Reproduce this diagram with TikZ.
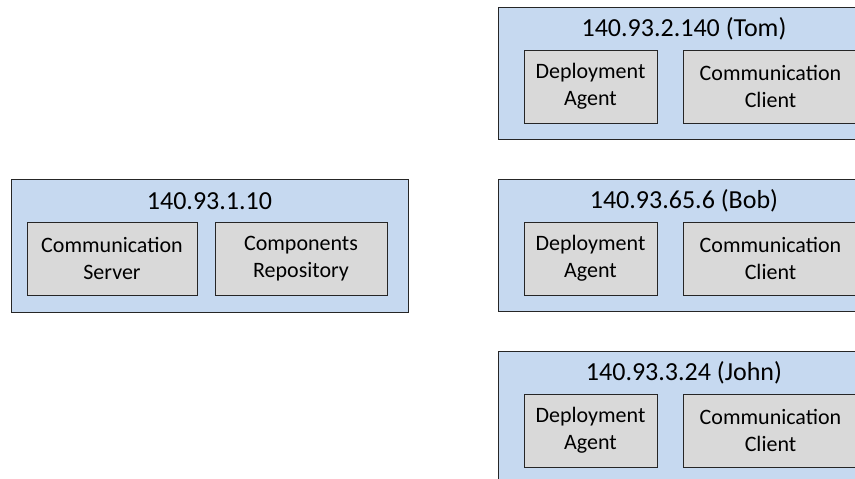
\documentclass[tikz,border=0pt]{standalone}
\usepackage{fontspec}
\setmainfont{Carlito}
\definecolor{hostblue}{HTML}{C6D9F0}
\definecolor{compgray}{HTML}{D9D9D9}
\definecolor{edgecol}{HTML}{262626}
\begin{document}
\begin{tikzpicture}[x=1pt,y=-1pt,
  host/.style={draw=edgecol,fill=hostblue,line width=0.9pt},
  comp/.style={draw=edgecol,fill=compgray,line width=0.9pt},
  ttl/.style={font=\fontsize{26}{30}\selectfont,inner sep=0pt},
  lbl/.style={font=\fontsize{22}{27}\selectfont,align=center,inner sep=0pt}]
\useasboundingbox (0,0) rectangle (855,479);
\begin{scope}
\clip (0,0) rectangle (855,479);
% left server host
\draw[host] (11,179) rectangle (408,312);
\node[ttl] (srvT) at (209.5,201) {140.93.1.10};
\draw[comp] (27,222) rectangle (197,295);
\node[lbl] (srvA) at (112,258.5) {Communication\\Server};
\draw[comp] (215,222) rectangle (387,295);
\node[lbl] (srvB) at (301,258.5) {Components\\Repository};
% right hosts
\foreach \y/\name in {7/{140.93.2.140 (Tom)},179/{140.93.65.6 (Bob)},351/{140.93.3.24 (John)}}{
  \draw[host] (498,\y) rectangle (870,\y+132);
  \node[ttl] at (684,\y+22) {\name};
  \draw[comp] (524,\y+43) rectangle (657,\y+116);
  \node[lbl] at (590.5,\y+79.5) {Deployment\\Agent};
  \draw[comp] (683,\y+43) rectangle (858,\y+116);
  \node[lbl] at (770.5,\y+79.5) {Communication\\Client};
}
\end{scope}
\end{tikzpicture}
\end{document}
